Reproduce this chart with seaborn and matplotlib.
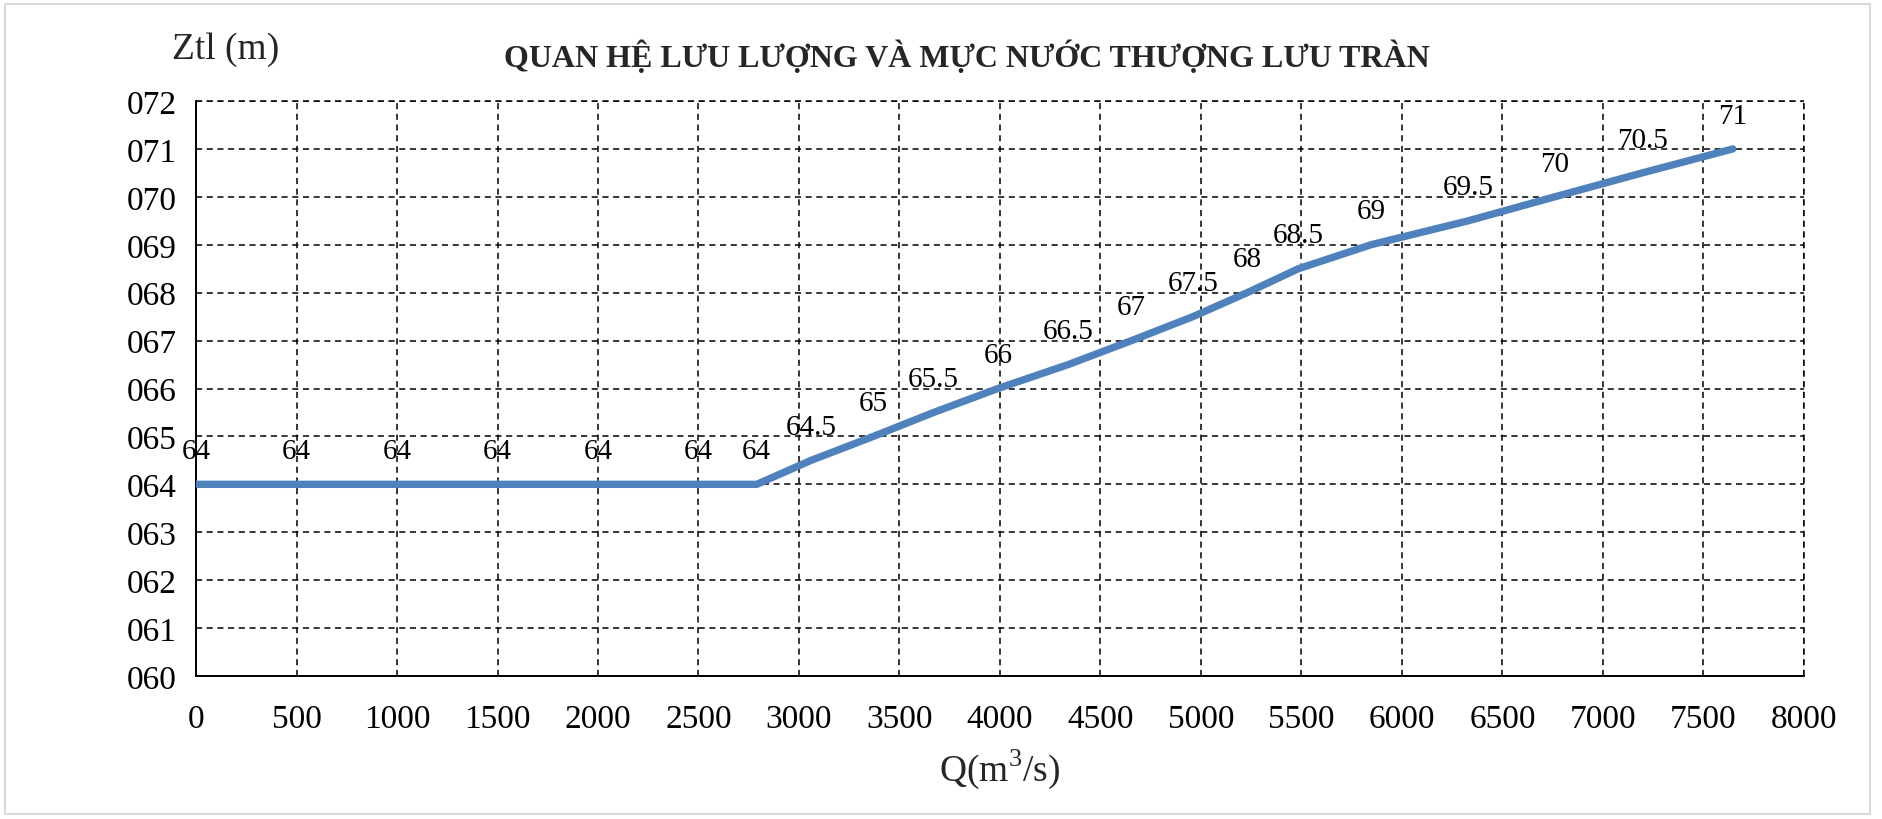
import matplotlib
matplotlib.use("Agg")
import matplotlib.pyplot as plt
import matplotlib.patches as patches
from matplotlib.ticker import FuncFormatter, MultipleLocator
import numpy as np
import pandas as pd
import seaborn as sns

# Discharge Q (m3/s) and upstream water level Ztl (m)
discharge = [0, 500, 1000, 1500, 2000, 2500, 2790, 3060, 3370, 3670, 3990,
             4340, 4655, 4960, 5230, 5485, 5846, 6330, 6760, 7196, 7646]
water_level = [64, 64, 64, 64, 64, 64, 64, 64.5, 65, 65.5, 66,
               66.5, 67, 67.5, 68, 68.5, 69, 69.5, 70, 70.5, 71]

title_text = "QUAN HỆ LƯU LƯỢNG VÀ MỰC NƯỚC THƯỢNG LƯU TRÀN"
y_unit_text = "Ztl (m)"
x_label_text = "Q(m$^3$/s)"

sns.set_style("white")
plt.rcParams["font.family"] = ["Liberation Serif", "DejaVu Serif"]
plt.rcParams["mathtext.fontset"] = "custom"
plt.rcParams["mathtext.rm"] = "Liberation Serif"

df = pd.DataFrame({"Q": discharge, "Z": water_level})

fig = plt.figure(figsize=(18.83, 8.20), dpi=100)
ax = fig.add_axes([0.1041, 0.1744, 0.958 - 0.1041, 0.8756 - 0.1744])

sns.lineplot(data=df, x="Q", y="Z", ax=ax, color="#4f81bd", linewidth=5.3,
             solid_capstyle="round", solid_joinstyle="round", zorder=3)

ax.set_xlim(0, 8000)
ax.set_ylim(60, 72)
ax.xaxis.set_major_locator(MultipleLocator(500))
ax.yaxis.set_major_locator(MultipleLocator(1))
ax.yaxis.set_major_formatter(FuncFormatter(lambda v, p: f"0{v:.0f}"))
ax.xaxis.set_major_formatter(FuncFormatter(lambda v, p: f"{v:.0f}"))
ax.tick_params(axis="both", length=0, labelsize=24, colors="black")
ax.tick_params(axis="x", pad=20)
ax.tick_params(axis="y", pad=14)
ax.set_xlabel("")
ax.set_ylabel("")

ax.grid(True, color="black", linestyle=(0, (4, 3)), linewidth=1.1)
for side in ["top", "right"]:
    ax.spines[side].set_visible(False)
for side in ["left", "bottom"]:
    ax.spines[side].set_color("black")
    ax.spines[side].set_linewidth(1.4)
# dashed frame on the open sides
ax.axhline(72, color="black", linestyle=(0, (4, 3)), linewidth=1.1, clip_on=False)
ax.axvline(8000, color="black", linestyle=(0, (4, 3)), linewidth=1.1, clip_on=False)

for q, z in zip(discharge, water_level):
    ax.annotate(f"{z:g}", (q, z), xytext=(0, 24), textcoords="offset points",
                ha="center", va="center", fontsize=21, color="black",
                annotation_clip=False, zorder=4)

fig.text(967 / 1883, 1 - 57 / 820, title_text, ha="center", va="center",
         fontsize=23, fontweight="bold")
fig.text(226 / 1883, 1 - 50 / 820, y_unit_text, ha="center", va="center",
         fontsize=27)
fig.text(1000 / 1883, 1 - 769 / 820, x_label_text, ha="center", va="center",
         fontsize=27)

fig.patches.append(patches.Rectangle((5 / 1883, 5 / 820), 1865 / 1883, 810 / 820,
                                     transform=fig.transFigure, fill=False,
                                     edgecolor="#d9d9d9", linewidth=1.5))

fig.savefig("out.png", dpi=100)
